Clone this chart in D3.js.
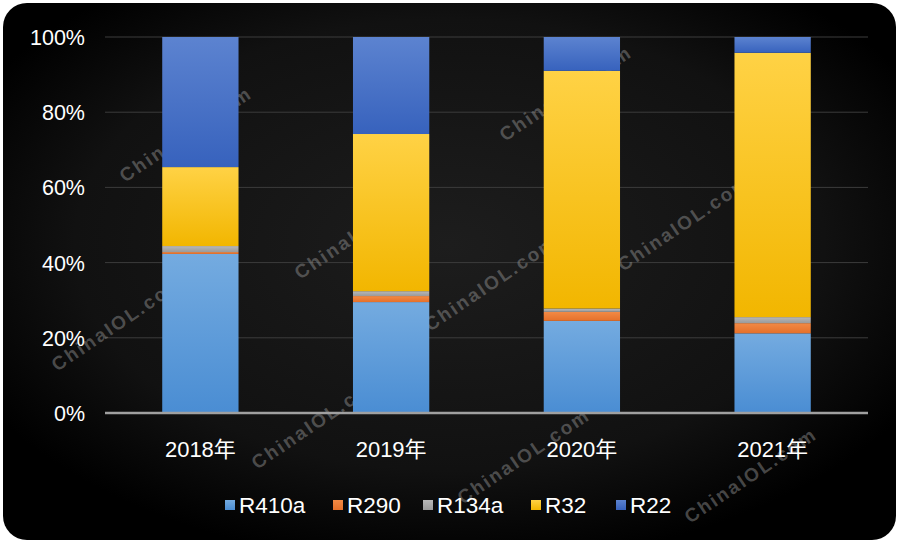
<!DOCTYPE html>
<html><head><meta charset="utf-8">
<script src="https://cdn.jsdelivr.net/npm/d3@7"></script>
<style>html,body{margin:0;padding:0;background:#fff;}svg{display:block;}</style>
</head><body>
<svg id="chart" width="898" height="542"></svg>
<script>
const years = ["2018年","2019年","2020年","2021年"];
const seriesNames = ["R410a","R290","R134a","R32","R22"];
const R410a = [42.3, 29.5, 24.5, 21.2];
const R290  = [0.5, 1.6, 2.4, 2.7];
const R134a = [1.6, 1.3, 0.9, 1.6];
const R32   = [21.0, 41.8, 63.2, 70.3];
const R22   = [34.6, 25.8, 9.0, 4.2];
const yTicks = [0, 0.2, 0.4, 0.6, 0.8, 1.0];
const watermarkText = "ChinaIOL.com";

const colors = {R410a:"#5b9bd5", R290:"#ed7d31", R134a:"#a5a5a5", R32:"#ffc000", R22:"#4472c4"};
const gradStops = {
  R410a:["#74abe0","#4a8dd3"],
  R290:["#f28a45","#e5702a"],
  R134a:["#b8b8b8","#9a9a9a"],
  R32:["#ffd245","#f2b600"],
  R22:["#5c83d0","#3762bd"]
};

const svg = d3.select("#chart");
const defs = svg.append("defs");
const bg = defs.append("radialGradient").attr("id","bgGrad")
  .attr("cx","50%").attr("cy","45%").attr("r","60%");
bg.append("stop").attr("offset","0%").attr("stop-color","#1d1d1d");
bg.append("stop").attr("offset","70%").attr("stop-color","#111");
bg.append("stop").attr("offset","100%").attr("stop-color","#000");
seriesNames.forEach(s=>{
  const g = defs.append("linearGradient").attr("id","g_"+s).attr("x1",0).attr("y1",0).attr("x2",0).attr("y2",1);
  g.append("stop").attr("offset","0%").attr("stop-color",gradStops[s][0]);
  g.append("stop").attr("offset","100%").attr("stop-color",gradStops[s][1]);
});

svg.append("rect").attr("x",3).attr("y",3).attr("width",893).attr("height",537)
  .attr("rx",24).attr("ry",24).attr("fill","url(#bgGrad)");

const x = d3.scaleBand().domain(years).range([105,868]).paddingInner(0.6).paddingOuter(0.3);
const y = d3.scaleLinear().domain([0,1]).range([413,37]);

// gridlines
svg.append("g").selectAll("line").data(yTicks.filter(t=>t>0)).join("line")
  .attr("x1",105).attr("x2",868).attr("y1",d=>y(d)).attr("y2",d=>y(d))
  .attr("stroke","#3c3c3c").attr("stroke-width",1);

// watermarks (behind bars)
const wmPos = [[125,183],[505,142],[300,280],[623,272],[430,332],[57,372],[257,470],[463,505],[690,524]];
svg.append("g").selectAll("text").data(wmPos).join("text")
  .attr("transform",d=>`translate(${d[0]},${d[1]}) rotate(-34)`)
  .attr("font-family","Liberation Sans, Arial, sans-serif").attr("font-weight","bold")
  .attr("font-size",19).attr("letter-spacing",2.2)
  .attr("fill","#9a9a9a").attr("fill-opacity",0.45)
  .text(watermarkText);

// stacked data
const table = years.map((yr,i)=>({year:yr, R410a:R410a[i], R290:R290[i], R134a:R134a[i], R32:R32[i], R22:R22[i]}));
const stack = d3.stack().keys(seriesNames).offset(d3.stackOffsetExpand);
const layers = stack(table);

svg.append("g").selectAll("g").data(layers).join("g")
  .attr("fill",d=>"url(#g_"+d.key+")")
  .selectAll("rect").data(d=>d).join("rect")
  .attr("x",d=>x(d.data.year)).attr("width",x.bandwidth())
  .attr("y",d=>y(d[1])).attr("height",d=>y(d[0])-y(d[1]));

// x axis line
svg.append("line").attr("x1",105).attr("x2",868).attr("y1",y(0)).attr("y2",y(0))
  .attr("stroke","#a0a0a0").attr("stroke-width",2.5);

const font = "Liberation Sans, Arial, 'Noto Sans CJK SC', sans-serif";
// y labels
const yAxis = d3.axisLeft(y).tickValues(yTicks).tickFormat(d3.format(".0%")).tickSize(0).tickPadding(0);
const ya = svg.append("g").attr("transform","translate(85,0)").call(yAxis);
ya.select(".domain").remove();
ya.selectAll("text").attr("font-family",font).attr("font-size",21.5).attr("fill","#fff").attr("dy","0.35em");

// x labels
const xAxis = d3.axisBottom(x).tickSize(0).tickPadding(0);
const xa = svg.append("g").attr("transform","translate(0,441)").call(xAxis);
xa.select(".domain").remove();
xa.selectAll("text").attr("font-family",font).attr("font-size",22).attr("fill","#fff").attr("dy","0.71em");

// legend
const legX = [225,333,423,531,616];
const lg = svg.append("g").selectAll("g").data(seriesNames).join("g")
  .attr("transform",(d,i)=>`translate(${legX[i]},505)`);
lg.append("rect").attr("x",0).attr("y",-5).attr("width",10).attr("height",10).attr("fill",d=>"url(#g_"+d+")");
lg.append("text").attr("x",14).attr("y",0).attr("dy","0.35em")
  .attr("font-family",font).attr("font-size",22.5).attr("fill","#fff").text(d=>d);
</script>
</body></html>
